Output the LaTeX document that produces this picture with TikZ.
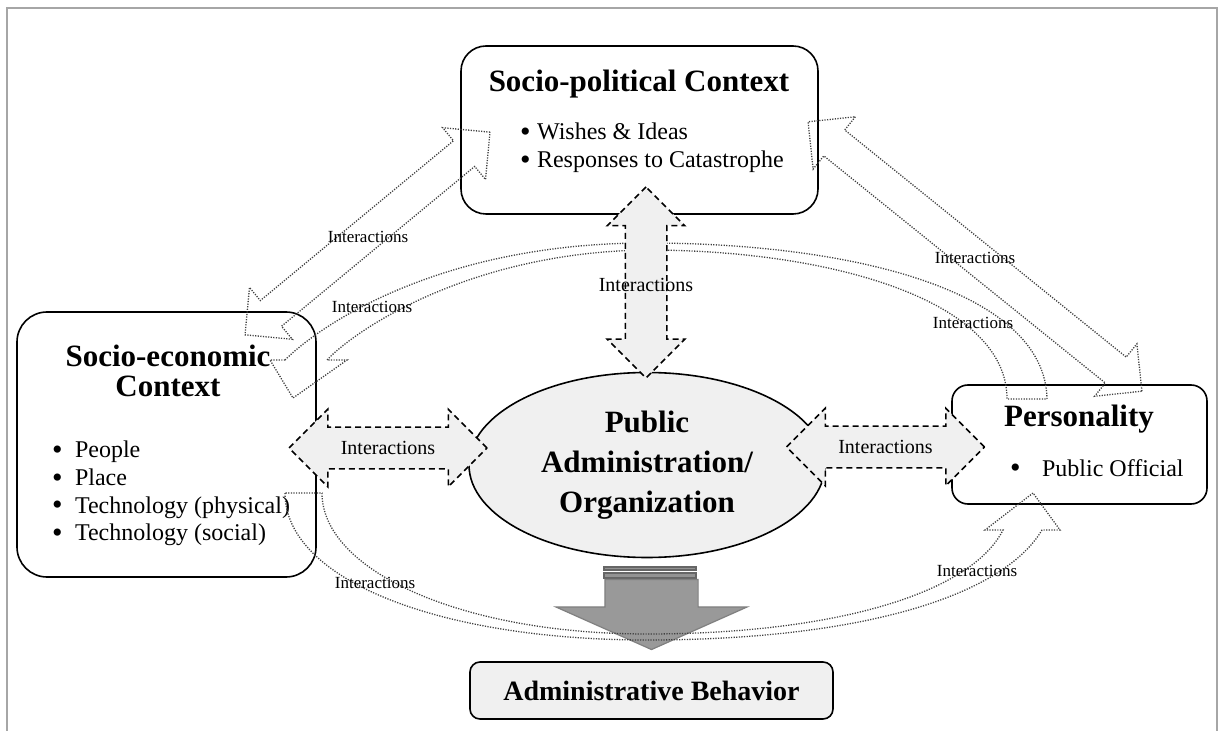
\documentclass[tikz,border=0pt]{standalone}
\usepackage{fontspec}
\setmainfont{Liberation Serif}
\usetikzlibrary{%
        shapes.arrows,
        shapes.geometric
    }

\tikzset{
    ctxbox/.style={draw, line width=0.8pt, inner sep=0pt},
    ctxtitle/.style={anchor=base, font=\fontsize{15.5}{18}\selectfont\bfseries},
    ctxitem/.style={anchor=base west, font=\fontsize{12}{14}\selectfont},
    linkarrow/.style={double arrow, draw, fill=gray!12, line width=0.75pt,
        dash pattern=on 3pt off 2pt, inner xsep=0pt, inner ysep=10pt,
        double arrow head extend=9pt, minimum height=99pt},
    looparrow/.style={double arrow, draw=gray!50!black, line width=0.65pt,
        dash pattern=on 0.6pt off 0.7pt, inner xsep=0pt, inner ysep=8pt,
        double arrow head extend=8.5pt},
    loopline/.style={draw=gray!50!black, line width=0.65pt,
        dash pattern=on 0.6pt off 0.7pt},
    linklabel/.style={font=\fontsize{10}{12}\selectfont},
    looplabel/.style={font=\fontsize{8.5}{10}\selectfont}
}
\newcommand{\ctxbullet}{\raisebox{-0.8pt}{\scalebox{1.25}{\textbullet}}}

\begin{document}
\begin{tikzpicture}[x=0.5pt, y=-0.5pt]

    \useasboundingbox (0, 0) rectangle (1219, 731);
    \draw[gray!70, line width=1pt] (7, 731) -- (7, 8) -- (1217, 8) -- (1217, 731);

    % contexts
    \node[ctxbox, rounded corners=12.5pt, minimum width=178.5pt, minimum height=84pt]
        (spc) at (639.5, 130) {};
    \node[ctxtitle] (spctitle) at (639, 92) {Socio-political Context};
    \node[ctxitem] (spc1) at (513, 140) {\makebox[8.5pt][l]{\ctxbullet}Wishes \& Ideas};
    \node[ctxitem] (spc2) at (513, 168) {\makebox[8.5pt][l]{\ctxbullet}Responses to Catastrophe};

    \node[ctxbox, rounded corners=15pt, minimum width=149.5pt, minimum height=132.5pt]
        (sec) at (166.5, 444.5) {};
    \node[ctxtitle] (sectitle) at (168, 367) {Socio-economic};
    \node[ctxtitle] (sectitleb) at (168, 397) {Context};
    \foreach \txt [count=\i] in {People, Place, Technology (physical), Technology (social)}
        \node[ctxitem] (sec\i) at (45, 430+27.7*\i) {\makebox[11.5pt][l]{\ctxbullet}\txt};

    \node[ctxbox, rounded corners=8pt, minimum width=127.5pt, minimum height=59.5pt]
        (pers) at (1079.5, 444.5) {};
    \node[ctxtitle] (perstitle) at (1079, 427) {Personality};
    \node[ctxitem] (pers1) at (1003, 476) {\makebox[16pt][l]{\ctxbullet}Public Official};

    \node[ellipse, draw, line width=0.8pt, fill=gray!12, minimum width=178pt,
        minimum height=92.5pt, inner sep=0pt, align=center,
        font=\fontsize{15.5}{20}\selectfont\bfseries]
        (pao) at (647, 465) {Public\\Administration/\\Organization};

    \node[ctxbox, rounded corners=5pt, fill=gray!12, minimum width=181.5pt,
        minimum height=28.5pt, font=\fontsize{14}{16}\selectfont\bfseries]
        (ab) at (651.5, 690.5) {Administrative Behavior};

    % striped arrow down to behaviour
    \foreach \ya/\yb in {567/570, 573/578} {%
        \filldraw[fill=gray!85, draw=gray!80!black, line width=0.6pt]
            (604, \ya) rectangle (696, \yb);
    };
    \node[single arrow, rotate=-90, anchor=tip, fill=gray!80, draw=gray,
        line width=0.6pt, inner xsep=0pt, inner ysep=23pt,
        single arrow head extend=24.5pt, single arrow tip angle=132,
        minimum height=35pt]
        (down) at ([yshift=5.5pt]ab.north) {};

    % dotted interactions
    \node[looparrow, rotate=39.6, minimum height=159pt] (spcsec) at (367.5, 233.5) {};
    \node[looparrow, rotate=-38.9, minimum height=214.5pt] (spcpers) at (975, 256.5) {};

    \draw[loopline]
        (285, 360) .. controls (320, 325) and (440, 243) .. (647, 243)
        .. controls (850, 243) and (1045, 290) .. (1047, 399)
        -- (1007, 399)
        .. controls (1007, 300) and (830, 250) .. (647, 250)
        .. controls (470, 252) and (355, 330) .. (327, 360)
        -- (347, 360) -- (293, 398) -- (270, 360) -- cycle;

    \draw[loopline]
        (285, 493) .. controls (285, 580) and (440, 640) .. (647, 640)
        .. controls (850, 640) and (1000, 600) .. (1042, 530)
        -- (1060, 530) -- (1033, 493) -- (985, 530) -- (1003, 530)
        .. controls (970, 595) and (830, 634) .. (647, 634)
        .. controls (460, 634) and (322, 570) .. (322, 493)
        -- cycle;

    \node[looplabel] (l1) at (368, 237) {Interactions};
    \node[looplabel] (l2) at (372, 307) {Interactions};
    \node[looplabel] (l3) at (975, 258) {Interactions};
    \node[looplabel] (l4) at (973, 323) {Interactions};
    \node[looplabel] (l5) at (375, 583) {Interactions};
    \node[looplabel] (l6) at (977, 571) {Interactions};

    % dashed interactions
    \node[linkarrow] (secpao) at (388, 448) {};
    \node[linkarrow] (paopers) at (885.5, 447) {};
    \node[linkarrow, rotate=90, minimum height=95.5pt] (spcpao) at (646, 282.5) {};

    \node[linklabel] (secpaol) at (secpao) {Interactions};
    \node[linklabel] (paopersl) at (paopers) {Interactions};
    \node[linklabel] (spcpaol) at (646, 285) {Interactions};

\end{tikzpicture}
\end{document}
